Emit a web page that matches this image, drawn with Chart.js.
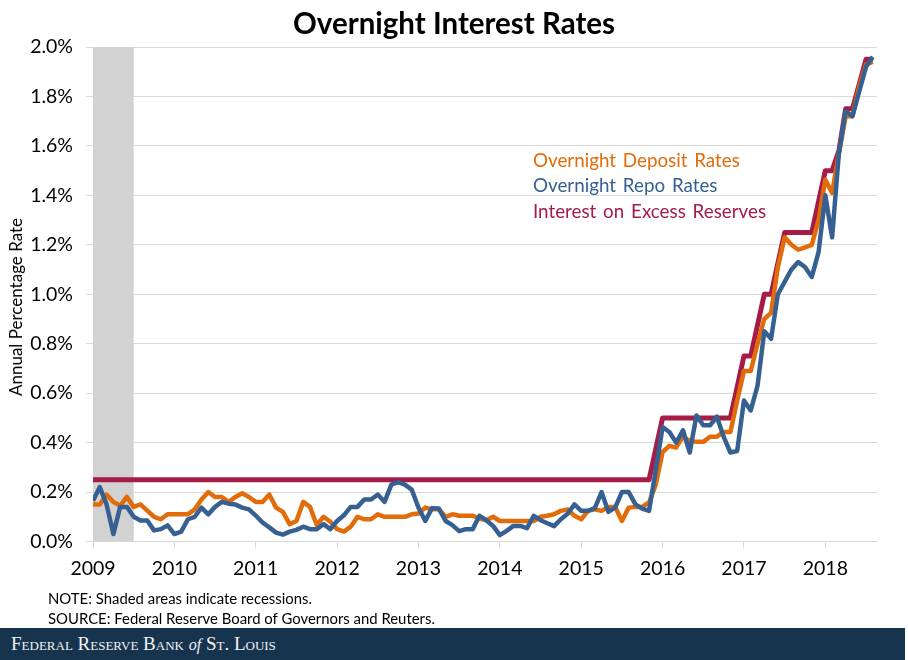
<!DOCTYPE html>
<html>
<head>
<meta charset="utf-8">
<style>
  html, body { margin: 0; padding: 0; background: #fff; }
  #wrap { position: relative; width: 908px; height: 660px; overflow: hidden; font-family: Lato, sans-serif; color: #000; }
  #rates { position: absolute; left: 0; top: 0; }
  #title { position: absolute; left: 0; width: 908px; top: 5px; text-align: center; font-size: 29.5px; font-weight: 700; line-height: 36px; }
  #yTitle { position: absolute; left: 16px; top: 307px; font-size: 17px; line-height: 20px; white-space: nowrap; transform: translate(-50%, -50%) rotate(-90deg); }
  .key { position: absolute; left: 533px; font-size: 18.8px; line-height: 24px; white-space: nowrap; word-spacing: 2px; }
  .note { position: absolute; left: 48px; font-size: 14.9px; line-height: 18px; white-space: nowrap; }
  #banner { position: absolute; left: 0; top: 628px; width: 905px; height: 32px; background: #17344f; color: #f2f2f2; font-family: "Liberation Serif", serif; font-variant: small-caps; font-size: 19px; line-height: 32px; padding-left: 11px; box-sizing: border-box; }
  #banner i { font-variant: normal; font-size: 16px; }
</style>
</head>
<body>
<div id="wrap">
  <canvas id="rates" width="908" height="660"></canvas>
  <div id="title">Overnight Interest Rates</div>
  <div id="yTitle">Annual Percentage Rate</div>
  <div class="key" style="top:148px;color:#e36c0a">Overnight Deposit Rates</div>
  <div class="key" style="top:173px;color:#376092">Overnight Repo Rates</div>
  <div class="key" style="top:199px;color:#a51c46">Interest on Excess Reserves</div>
  <div class="note" style="top:589px">NOTE: Shaded areas indicate recessions.</div>
  <div class="note" style="top:609px">SOURCE: Federal Reserve Board of Governors and Reuters.</div>
  <div id="banner">Federal Reserve Bank <i>of</i> St. Louis</div>
</div>
<script src="https://cdn.jsdelivr.net/npm/chart.js@4"></script>
<script>
// monthly values, Jan 2009 to Aug 2018, one row per year
const depositRates = [
  0.15, 0.15, 0.19, 0.16, 0.145, 0.18, 0.14, 0.15, 0.125, 0.10, 0.09, 0.11,
  0.11, 0.11, 0.11, 0.13, 0.17, 0.20, 0.18, 0.18, 0.16, 0.18, 0.195, 0.18,
  0.16, 0.16, 0.19, 0.137, 0.12, 0.07, 0.083, 0.16, 0.14, 0.067, 0.10, 0.08,
  0.05, 0.04, 0.06, 0.10, 0.09, 0.09, 0.11, 0.10, 0.10, 0.10, 0.10, 0.11,
  0.113, 0.137, 0.13, 0.13, 0.10, 0.11, 0.104, 0.104, 0.104, 0.093, 0.086, 0.10,
  0.083, 0.083, 0.083, 0.083, 0.083, 0.083, 0.10, 0.104, 0.11, 0.124, 0.13, 0.104,
  0.09, 0.124, 0.13, 0.124, 0.14, 0.14, 0.083, 0.137, 0.14, 0.14, 0.158, 0.23,
  0.362, 0.387, 0.38, 0.424, 0.407, 0.403, 0.403, 0.424, 0.424, 0.443, 0.443, 0.57,
  0.69, 0.69, 0.80, 0.90, 0.925, 1.11, 1.23, 1.20, 1.18, 1.19, 1.20, 1.30,
  1.463, 1.41, 1.57, 1.72, 1.72, 1.84, 1.93, 1.94
];
const repoRates = [
  0.165, 0.22, 0.15, 0.03, 0.14, 0.14, 0.10, 0.085, 0.085, 0.045, 0.05, 0.065,
  0.03, 0.04, 0.09, 0.10, 0.137, 0.11, 0.14, 0.16, 0.153, 0.15, 0.137, 0.13,
  0.105, 0.077, 0.057, 0.036, 0.028, 0.04, 0.047, 0.06, 0.05, 0.05, 0.07, 0.05,
  0.083, 0.106, 0.14, 0.14, 0.17, 0.17, 0.19, 0.16, 0.23, 0.24, 0.23, 0.21,
  0.137, 0.083, 0.135, 0.133, 0.083, 0.066, 0.042, 0.05, 0.05, 0.104, 0.086, 0.063,
  0.026, 0.043, 0.063, 0.063, 0.054, 0.104, 0.086, 0.074, 0.062, 0.09, 0.112, 0.15,
  0.124, 0.124, 0.135, 0.20, 0.12, 0.137, 0.20, 0.20, 0.15, 0.133, 0.124, 0.29,
  0.463, 0.443, 0.40, 0.45, 0.36, 0.51, 0.47, 0.47, 0.505, 0.424, 0.36, 0.366,
  0.57, 0.53, 0.63, 0.85, 0.82, 1.0, 1.05, 1.10, 1.13, 1.11, 1.07, 1.17,
  1.40, 1.23, 1.57, 1.74, 1.72, 1.82, 1.92, 1.96
];
const excessReserves = [
  0.25, 0.25, 0.25, 0.25, 0.25, 0.25, 0.25, 0.25, 0.25, 0.25, 0.25, 0.25,
  0.25, 0.25, 0.25, 0.25, 0.25, 0.25, 0.25, 0.25, 0.25, 0.25, 0.25, 0.25,
  0.25, 0.25, 0.25, 0.25, 0.25, 0.25, 0.25, 0.25, 0.25, 0.25, 0.25, 0.25,
  0.25, 0.25, 0.25, 0.25, 0.25, 0.25, 0.25, 0.25, 0.25, 0.25, 0.25, 0.25,
  0.25, 0.25, 0.25, 0.25, 0.25, 0.25, 0.25, 0.25, 0.25, 0.25, 0.25, 0.25,
  0.25, 0.25, 0.25, 0.25, 0.25, 0.25, 0.25, 0.25, 0.25, 0.25, 0.25, 0.25,
  0.25, 0.25, 0.25, 0.25, 0.25, 0.25, 0.25, 0.25, 0.25, 0.25, 0.25, 0.375,
  0.5, 0.5, 0.5, 0.5, 0.5, 0.5, 0.5, 0.5, 0.5, 0.5, 0.5, 0.625,
  0.75, 0.75, 0.875, 1.0, 1.0, 1.125, 1.25, 1.25, 1.25, 1.25, 1.25, 1.375,
  1.5, 1.5, 1.58, 1.75, 1.75, 1.85, 1.95, 1.95
];
const recession = [2009, 2009.5];
const firstYear = 2009;
const lastX = 2018.635;

const months = depositRates.map((_, i) => firstYear + i / 12);

const recessionBand = {
  id: "recessionBand",
  beforeDatasetsDraw(chart) {
    const { ctx, chartArea, scales } = chart;
    const left = scales.x.getPixelForValue(recession[0]);
    const right = scales.x.getPixelForValue(recession[1]);
    ctx.save();
    ctx.fillStyle = "#d2d2d2";
    ctx.fillRect(left, chartArea.top, right - left, chartArea.bottom - chartArea.top);
    ctx.restore();
  }
};

const tickFont = { family: "Lato, sans-serif", size: 19.5 };

new Chart(document.getElementById("rates"), {
  type: "line",
  data: {
    labels: months,
    datasets: [
      { label: "Interest on Excess Reserves", data: excessReserves, borderColor: "#a51c46", borderWidth: 5, order: 3 },
      { label: "Overnight Deposit Rates", data: depositRates, borderColor: "#e36c0a", borderWidth: 4.5, order: 2 },
      { label: "Overnight Repo Rates", data: repoRates, borderColor: "#376092", borderWidth: 4.5, order: 1 }
    ]
  },
  options: {
    responsive: false,
    animation: false,
    devicePixelRatio: 1,
    layout: { padding: { left: 0, right: 31, top: 47, bottom: 58.5 } },
    elements: {
      point: { radius: 0 },
      line: { tension: 0, borderJoinStyle: "round", borderCapStyle: "butt" }
    },
    plugins: { legend: { display: false }, tooltip: { enabled: false } },
    scales: {
      x: {
        type: "linear",
        min: firstYear,
        max: lastX,
        afterFit(scale) { scale.height = 60; },
        border: { display: false },
        grid: { drawOnChartArea: false, color: "#d9d9d9", tickLength: 7 },
        ticks: {
          stepSize: 1,
          includeBounds: false,
          autoSkip: false,
          maxRotation: 0,
          padding: 9,
          color: "#000",
          font: tickFont,
          callback: (v) => String(v)
        }
      },
      y: {
        min: 0,
        max: 2,
        afterFit(scale) { scale.width = 93; },
        border: { display: false },
        grid: { color: "#d9d9d9", tickLength: 7 },
        ticks: {
          stepSize: 0.2,
          padding: 13,
          color: "#000",
          font: tickFont,
          callback: (v) => v.toFixed(1) + "%"
        }
      }
    }
  },
  plugins: [recessionBand]
});
</script>
</body>
</html>
